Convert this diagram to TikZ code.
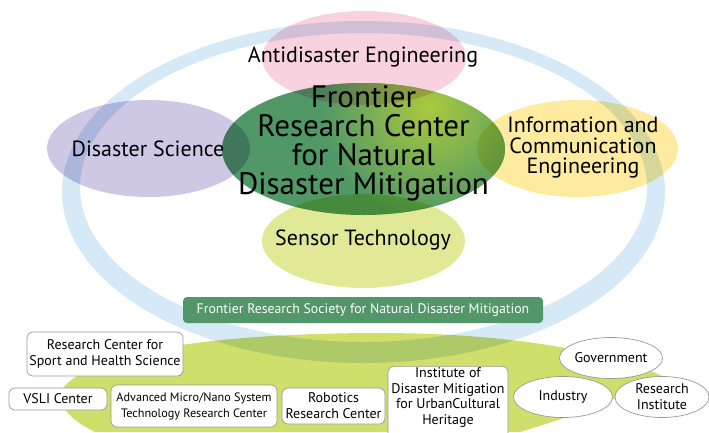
\documentclass[tikz,border=0pt]{standalone}
\usepackage{fontspec}
\setmainfont{PT Sans}
\usetikzlibrary{shapes.geometric}
\definecolor{cpink}{RGB}{248,210,222}
\definecolor{cpurple}{RGB}{206,200,228}
\definecolor{cyellow}{RGB}{254,235,160}
\definecolor{csensor}{RGB}{225,233,150}
\definecolor{clime}{RGB}{208,222,108}
\definecolor{cring}{RGB}{214,233,247}
\definecolor{cgreen}{RGB}{80,152,102}
\definecolor{chigh}{RGB}{170,202,62}
\definecolor{cbox}{RGB}{82,150,106}
\begin{document}
\begin{tikzpicture}[x=1pt,y=-1pt,
  blob/.style={ellipse, inner sep=0pt, draw=none},
  wbox/.style={draw=black!40, fill=white, rounded corners=6pt, line width=0.7pt, inner sep=0pt, align=center, font=\fontsize{14}{16}\selectfont},
  woval/.style={ellipse, draw=black!40, fill=white, line width=0.7pt, inner sep=0pt, align=center, font=\fontsize{14}{16}\selectfont},
  lbl/.style={align=center, inner sep=0pt, font=\fontsize{22}{20.5}\selectfont}]
\useasboundingbox (0,0) rectangle (709,432);
% bottom lime shape
\fill[clime] (60,392) .. controls (90,345) and (250,333) .. (380,333) .. controls (520,333) and (620,355) .. (662,376) .. controls (620,400) and (560,420) .. (520,432) -- (95,432) .. controls (70,420) and (58,405) .. (60,392) -- cycle;
% satellites
\node[blob, fill=cpink, minimum width=204, minimum height=94] (anti) at (364,58) {};
\node[blob, fill=cpurple, minimum width=203, minimum height=97] (sci) at (148.5,148.5) {};
\node[blob, fill=cyellow, minimum width=201, minimum height=97] (ice) at (577.5,148.5) {};
\node[blob, fill=csensor, minimum width=203, minimum height=94] (sensor) at (363.5,241) {};
% central
\node[blob, fill=cgreen, minimum width=283, minimum height=132] (frc) at (363.5,149) {};
\begin{scope}
  \clip (363.5,149) ellipse [x radius=141.5, y radius=66];
  \shade[inner color=chigh, outer color=cgreen] (430,108) circle (110);
  \begin{scope}[blend mode=multiply]
    \fill[cpink] (364,58) ellipse [x radius=102, y radius=47];
    \fill[cpurple] (148.5,148.5) ellipse [x radius=101.5, y radius=48.5];
    \fill[cyellow] (577.5,148.5) ellipse [x radius=100.5, y radius=48.5];
    \fill[csensor] (363.5,241) ellipse [x radius=101.5, y radius=47];
  \end{scope}
\end{scope}
% ring
\begin{scope}[blend mode=multiply]
  \fill[cring, even odd rule] (363.5,192) ellipse [x radius=301.5, y radius=171]
                              (363.5,187.5) ellipse [x radius=283.5, y radius=154.5];
\end{scope}
% labels
\node[lbl] at (363,57) {Antidisaster Engineering};
\node[lbl] at (148,149) {Disaster Science};
\node[lbl] at (583,148) {Information and\\Communication\\Engineering};
\node[lbl] at (363,240) {Sensor Technology};
\node[align=center, inner sep=0pt, font=\fontsize{31}{29.2}\selectfont] at (363.5,143.5) {Frontier\\Research Center\\for Natural\\Disaster Mitigation};
% society box
\node[fill=cbox, rounded corners=4pt, minimum width=360, minimum height=26, inner sep=0pt, text=white, font=\fontsize{13.8}{16}\selectfont] (frs) at (363,310) {Frontier Research Society for Natural Disaster Mitigation};
% bottom boxes
\node[wbox, minimum width=156, minimum height=44] (sport) at (105,354) {Research Center for\\Sport and Health Science};
\node[wbox, minimum width=98, minimum height=22] (vsli) at (58,399) {VSLI Center};
\node[wbox, minimum width=166, minimum height=42, font=\fontsize{12.2}{16}\selectfont] (mems) at (194,406) {Advanced Micro/Nano System\\Technology Research Center};
\node[wbox, minimum width=103, minimum height=36] (robo) at (333.5,406) {Robotics\\Research Center};
\node[wbox, minimum width=120, minimum height=72, anchor=north, font=\fontsize{14}{15.6}\selectfont] (inst) at (448,366) {Institute of\\Disaster Mitigation\\for UrbanCultural\\Heritage\\[-3pt]};
\node[woval, minimum width=98, minimum height=41] (gov) at (611,358) {Government};
\node[woval, minimum width=99, minimum height=41] (ind) at (563,397) {Industry};
\node[woval, minimum width=94, minimum height=41] (ri) at (662,397) {Research\\Institute};
\end{tikzpicture}
\end{document}
